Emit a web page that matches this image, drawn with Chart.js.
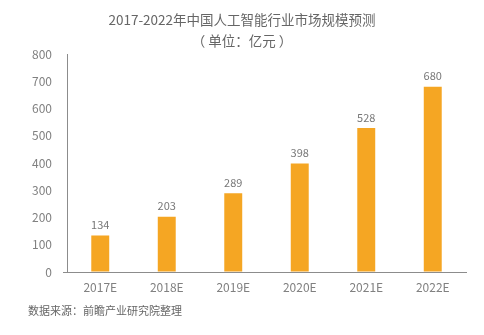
<!DOCTYPE html>
<html>
<head>
<meta charset="utf-8">
<script src="https://cdn.jsdelivr.net/npm/chart.js@4.4.0/dist/chart.umd.min.js"></script>
<style>
  html, body { margin: 0; padding: 0; background: #fff; }
  #wrap { width: 484px; height: 335px; }
</style>
</head>
<body>
<div id="wrap"><canvas id="marketChart" width="484" height="335"></canvas></div>
<script>
const years = ['2017E', '2018E', '2019E', '2020E', '2021E', '2022E'];
const marketSize = [134, 203, 289, 398, 528, 680];
const yTicks = [0, 100, 200, 300, 400, 500, 600, 700, 800];

const titleText = '2017-2022年中国人工智能行业市场规模预测';
const subtitleText = '（ 单位：亿元 ）';
const sourceText = '数据来源：前瞻产业研究院整理';

const fontFamily = '"Noto Sans CJK SC", "Noto Sans", sans-serif';

// titles, source line and value labels drawn on the canvas
const textPlugin = {
    id: 'textPlugin',
    afterDraw(chart) {
        const ctx = chart.ctx;
        ctx.save();
        ctx.fillStyle = '#666';
        ctx.textAlign = 'center';
        ctx.textBaseline = 'middle';
        ctx.font = '13.5px ' + fontFamily;
        ctx.fillText(titleText, 242, 20);
        ctx.fillText(subtitleText, 242, 41);

        ctx.textAlign = 'left';
        ctx.font = '11px ' + fontFamily;
        ctx.fillText(sourceText, 28, 311);

        ctx.textAlign = 'center';
        ctx.textBaseline = 'bottom';
        ctx.font = '11px ' + fontFamily;
        ctx.fillStyle = '#777';
        const meta = chart.getDatasetMeta(0);
        meta.data.forEach((bar, i) => {
            ctx.fillText(marketSize[i], bar.x, bar.y - 5);
        });
        ctx.restore();
    }
};

const marketConfig = {
    type: 'bar',
    data: {
        labels: years,
        datasets: [
            {
                label: '市场规模',
                data: marketSize,
                backgroundColor: '#F5A623',
                categoryPercentage: 1,
                barPercentage: 0.27
            }
        ]
    },
    options: {
        responsive: false,
        animation: false,
        layout: {
            padding: { top: 54, left: 10, right: 18, bottom: 28 }
        },
        plugins: {
            legend: { display: false },
            tooltip: { enabled: false }
        },
        scales: {
            x: {
                grid: { display: false },
                border: { color: '#8c8c8c', width: 1 },
                ticks: {
                    color: '#808080',
                    font: { family: fontFamily, size: 12 },
                    padding: 0
                },
                afterFit(scale) { scale.height = 35; }
            },
            y: {
                min: 0,
                max: 800,
                grid: {
                    drawOnChartArea: false,
                    tickLength: 4,
                    color: c => (c.tick && c.tick.value === 0 ? '#8c8c8c' : 'rgba(0,0,0,0)')
                },
                border: { color: '#8c8c8c', width: 1 },
                afterBuildTicks(scale) {
                    scale.ticks = yTicks.map(v => ({ value: v }));
                },
                ticks: {
                    color: '#808080',
                    font: { family: fontFamily, size: 12 },
                    padding: 11
                },
                afterFit(scale) { scale.width = 57; }
            }
        }
    },
    plugins: [textPlugin]
};

var marketChart = new Chart(document.getElementById('marketChart'), marketConfig);
</script>
</body>
</html>
